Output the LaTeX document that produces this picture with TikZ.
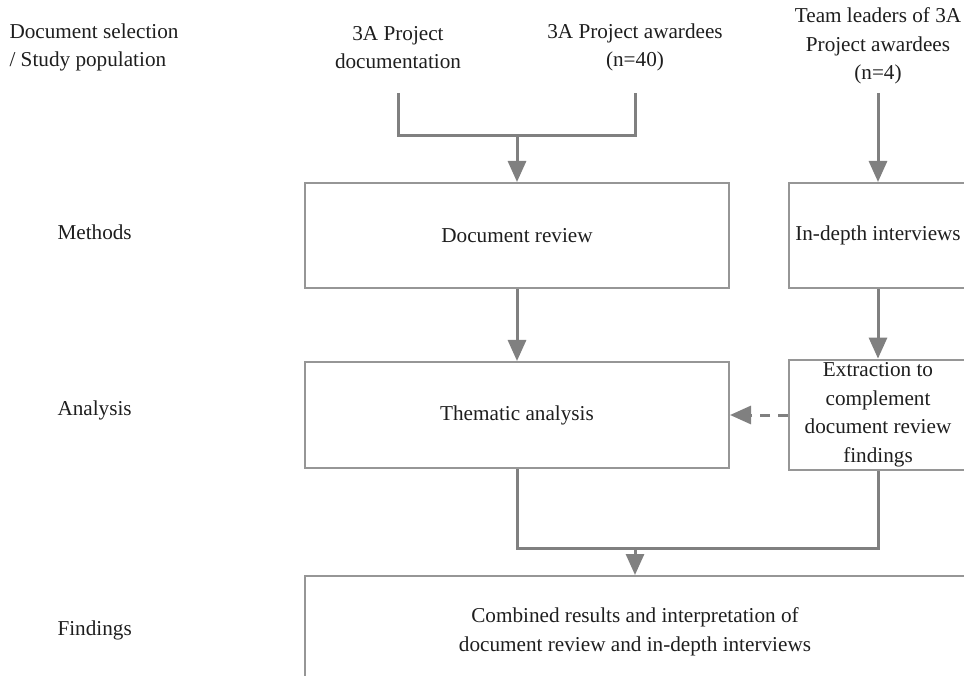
\documentclass[tikz,border=0pt]{standalone}
\usepackage{fontspec}
\setmainfont{Liberation Serif}
\usetikzlibrary{arrows.meta,positioning}

\definecolor{linegray}{RGB}{128,128,128}
\definecolor{boxgray}{RGB}{150,150,150}
\definecolor{textgray}{RGB}{30,30,30}

\tikzset{
  box/.style={draw=boxgray, line width=2pt, align=center, text=textgray},
  lbl/.style={align=center, text=textgray},
  rowlbl/.style={anchor=west, align=left, text=textgray},
  plain/.style={draw=linegray, line width=3pt},
  conn/.style={plain, -{Triangle[length=21pt,width=18pt]}},
}

\begin{document}
\begin{tikzpicture}[x=1pt, y=-1pt, font=\fontsize{21.2}{28.5}\selectfont]
    \useasboundingbox (0,0) rectangle (964,676);
    \clip (0,0) rectangle (964,676);

    % row labels
    \node[rowlbl] (selection) at (6,47.5) {Document selection\\ / Study population};
    \node[rowlbl] (methods) at (54,232) {Methods};
    \node[rowlbl] (analysis) at (54,410) {Analysis};
    \node[rowlbl] (findlbl) at (54,630) {Findings};

    % sources
    \node[lbl] (docs) at (398,47.5) {3A Project\\documentation};
    \node[lbl] (awardees) at (635,47.5) {3A Project awardees\\(n=40)};
    \node[lbl] (leaders) at (878,46) {Team leaders of 3A\\Project awardees\\(n=4)};

    % boxes
    \node[box, minimum width=424pt, minimum height=105pt] (review) at (517,235.5) {Document review};
    \node[box, minimum width=178pt, minimum height=105pt] (interviews) at (878,235.5) {In-depth interviews};
    \node[box, minimum width=424pt, minimum height=106pt] (thematic) at (517,415) {Thematic analysis};
    \node[box, minimum width=178pt, minimum height=106pt] (extract) at (878,415) {Extraction to\\complement\\document review\\findings};
    \node[box, minimum width=660pt, minimum height=112pt] (findings) at (635,632) {Combined results and interpretation of\\document review and in-depth interviews};

    % connectors
    \coordinate (docend) at (398,93);
    \coordinate (awdend) at (635,93);
    \coordinate (leadend) at (878,93);
    \coordinate (topjoin) at (517,136);
    \coordinate (botjoin) at (635,548);

    \draw[plain] (docend) -- (docend |- topjoin) -- (awdend |- topjoin) -- (awdend);
    \draw[conn] (topjoin) -- (review);
    \draw[conn] (leadend) -- (interviews);
    \draw[conn] (review) -- (thematic);
    \draw[conn] (interviews) -- (extract);
    \draw[conn, dash pattern=on 10pt off 8pt] (extract) -- (thematic);
    \draw[plain] (thematic.south) -- (thematic.south |- botjoin) -- (extract.south |- botjoin) -- (extract.south);
    \draw[conn] (botjoin) -- (findings);
\end{tikzpicture}
\end{document}
